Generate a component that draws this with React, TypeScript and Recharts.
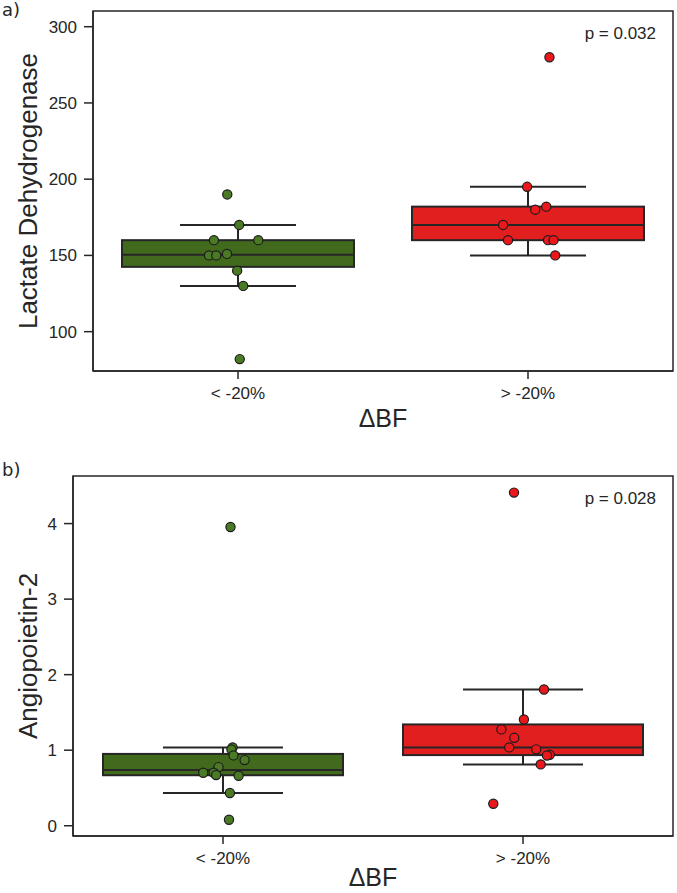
import React from 'react';
import { ComposedChart, Bar, Scatter, XAxis, YAxis, ReferenceArea } from 'recharts';

const groups = ['< -20%', '> -20%'];

// a) Lactate dehydrogenase
const ldhLow = [190, 170, 160, 160, 150, 150, 151, 140, 130, 82];
const ldhLowJitter = [-0.037, 0.004, -0.083, 0.07, -0.1, -0.075, -0.038, -0.003, 0.018, 0.006];
const ldhHigh = [280, 195, 180, 182, 170, 160, 160, 160, 150];
const ldhHighJitter = [0.074, -0.003, 0.025, 0.063, -0.086, -0.069, 0.069, 0.088, 0.094];
const ldhTicks = [100, 150, 200, 250, 300];

// b) Angiopoietin-2
const angLow = [3.955, 1.037, 1.01, 0.931, 0.869, 0.776, 0.701, 0.701, 0.671, 0.661, 0.433, 0.079];
const angLowJitter = [0.025, 0.032, 0.028, 0.035, 0.072, -0.015, -0.066, -0.031, -0.023, 0.052, 0.023, 0.02];
const angHigh = [4.41, 1.804, 1.407, 1.275, 1.164, 1.037, 1.011, 0.94, 0.93, 0.812, 0.291];
const angHighJitter = [-0.03, 0.07, 0.003, -0.072, -0.029, -0.046, 0.044, 0.089, 0.08, 0.059, -0.099];
const angTicks = [0, 1, 2, 3, 4];

const FONT = '"Liberation Sans", Arial, sans-serif';
const INK = '#262626';
const BOX_FILL = ['#416a1c', '#e11f1f'];
const DOT_FILL = ['#4b7a24', '#e8181c'];

function quantile(sorted: number[], p: number) {
  const i = (sorted.length - 1) * p;
  const lo = Math.floor(i);
  const hi = Math.ceil(i);
  return sorted[lo] + (sorted[hi] - sorted[lo]) * (i - lo);
}

function boxRow(group: string, idx: number, values: number[]) {
  const s = [...values].sort((a, b) => a - b);
  const q1 = quantile(s, 0.25);
  const med = quantile(s, 0.5);
  const q3 = quantile(s, 0.75);
  const iqr = q3 - q1;
  const inside = s.filter((v) => v >= q1 - 1.5 * iqr && v <= q3 + 1.5 * iqr);
  return {
    group,
    fill: BOX_FILL[idx],
    box: [q1, q3],
    whisker: [inside[0], inside[inside.length - 1]],
    median: [med, med],
  };
}

function strip(idx: number, values: number[], jitter: number[]) {
  return values.map((v, i) => ({ x: idx + 0.5 + jitter[i], y: v, fill: DOT_FILL[idx] }));
}

const BoxShape = (props: any) => {
  const { x, y, width, height, payload } = props;
  const top = Math.min(y, y + height);
  return (
    <rect x={x} y={top} width={width} height={Math.abs(height)} fill={payload.fill} stroke={INK} strokeWidth={2} />
  );
};

const WhiskerShape = (props: any) => {
  const { x, y, width, height } = props;
  const cx = x + width / 2;
  const top = Math.min(y, y + height);
  const bot = Math.max(y, y + height);
  const cap = width / 4;
  return (
    <g stroke={INK} strokeWidth={2}>
      <line x1={cx} x2={cx} y1={top} y2={bot} />
      <line x1={cx - cap} x2={cx + cap} y1={top} y2={top} />
      <line x1={cx - cap} x2={cx + cap} y1={bot} y2={bot} />
    </g>
  );
};

const MedianShape = (props: any) => {
  const { x, y, width } = props;
  return <line x1={x} x2={x + width} y1={y} y2={y} stroke={INK} strokeWidth={2} />;
};

const Dot = (props: any) => (
  <circle cx={props.cx} cy={props.cy} r={4.6} fill={props.payload.fill} stroke="#1c1c1c" strokeWidth={1.2} />
);

interface PanelProps {
  top: number;
  height: number;
  marginTop: number;
  yWidth: number;
  xHeight: number;
  xLabelDy: number;
  domain: [number, number];
  ticks: number[];
  yLabel: string;
  pText: string;
  tag: string;
  low: number[];
  lowJitter: number[];
  high: number[];
  highJitter: number[];
}

function Panel(p: PanelProps) {
  const boxes = [boxRow(groups[0], 0, p.low), boxRow(groups[1], 1, p.high)];
  const points = [...strip(0, p.low, p.lowJitter), ...strip(1, p.high, p.highJitter)];
  const axisLine = { stroke: INK, strokeWidth: 1.5 };
  const tickStyle = { fill: INK, fontSize: 17, fontFamily: FONT };

  const yLabel = (props: any) => {
    const vb = props.viewBox;
    const cx = 28;
    const cy = vb.y + vb.height / 2;
    return (
      <text
        x={cx}
        y={cy}
        transform={`rotate(-90, ${cx}, ${cy})`}
        textAnchor="middle"
        dominantBaseline="central"
        fill={INK}
        fontSize={26}
        fontFamily={FONT}
      >
        {p.yLabel}
      </text>
    );
  };

  const xLabel = (props: any) => {
    const vb = props.viewBox;
    return (
      <text x={vb.x + vb.width / 2} y={vb.y + p.xLabelDy} textAnchor="middle" fill={INK} fontSize={25} fontFamily={FONT}>
        ΔBF
      </text>
    );
  };

  return (
    <div style={{ position: 'absolute', left: 0, top: p.top, width: 677, height: p.height }}>
      <div style={{ position: 'absolute', left: 2, top: 1, fontSize: 18, fontFamily: '"DejaVu Sans", sans-serif', color: INK, lineHeight: '18px' }}>
        {p.tag}
      </div>
      <div style={{ position: 'absolute', right: 21, top: p.marginTop + 13, fontSize: 17, fontFamily: FONT, color: INK, lineHeight: '20px' }}>
        {p.pText}
      </div>
      <ComposedChart
        width={677}
        height={p.height}
        data={boxes}
        margin={{ top: p.marginTop, right: 4, bottom: 0, left: 0 }}
      >
        <XAxis
          dataKey="group"
          type="category"
          height={p.xHeight}
          axisLine={axisLine}
          tickLine={{ stroke: INK, strokeWidth: 1.5 }}
          tickSize={8}
          tickMargin={8}
          tick={tickStyle}
          label={xLabel}
        />
        <XAxis xAxisId="top" dataKey="group" type="category" hide />
        <XAxis xAxisId="mid" dataKey="group" type="category" hide />
        <XAxis xAxisId="num" dataKey="x" type="number" domain={[0, 2]} allowDataOverflow hide />
        <YAxis
          type="number"
          domain={p.domain}
          ticks={p.ticks}
          allowDataOverflow
          width={p.yWidth}
          axisLine={axisLine}
          tickLine={{ stroke: INK, strokeWidth: 1.5 }}
          tickSize={9}
          tickMargin={7}
          tick={tickStyle}
          label={yLabel}
        />
        <YAxis yAxisId="right" dataKey="y" type="number" domain={p.domain} allowDataOverflow hide />
        <ReferenceArea
          xAxisId="num"
          yAxisId="right"
          x1={0}
          x2={2}
          y1={p.domain[0]}
          y2={p.domain[1]}
          fill="none"
          fillOpacity={0}
          stroke={INK}
          strokeWidth={1.5}
          ifOverflow="visible"
        />
        <Bar xAxisId="top" dataKey="whisker" shape={WhiskerShape} isAnimationActive={false} />
        <Bar dataKey="box" shape={BoxShape} isAnimationActive={false} />
        <Bar xAxisId="mid" dataKey="median" shape={MedianShape} isAnimationActive={false} />
        <Scatter xAxisId="num" yAxisId="right" data={points} shape={Dot} isAnimationActive={false} />
      </ComposedChart>
    </div>
  );
}

export default function App() {
  return (
    <div style={{ position: 'absolute', left: 0, top: 0, width: 677, height: 893, background: '#fff', overflow: 'hidden' }}>
      <Panel
        top={0}
        height={440}
        marginTop={11}
        yWidth={93}
        xHeight={69}
        xLabelDy={56}
        domain={[74.2, 310.3]}
        ticks={ldhTicks}
        yLabel="Lactate Dehydrogenase"
        pText="p = 0.032"
        tag="a)"
        low={ldhLow}
        lowJitter={ldhLowJitter}
        high={ldhHigh}
        highJitter={ldhHighJitter}
      />
      <Panel
        top={460}
        height={433}
        marginTop={16}
        yWidth={73}
        xHeight={57}
        xLabelDy={50}
        domain={[-0.136, 4.63]}
        ticks={angTicks}
        yLabel="Angiopoietin-2"
        pText="p = 0.028"
        tag="b)"
        low={angLow}
        lowJitter={angLowJitter}
        high={angHigh}
        highJitter={angHighJitter}
      />
    </div>
  );
}
